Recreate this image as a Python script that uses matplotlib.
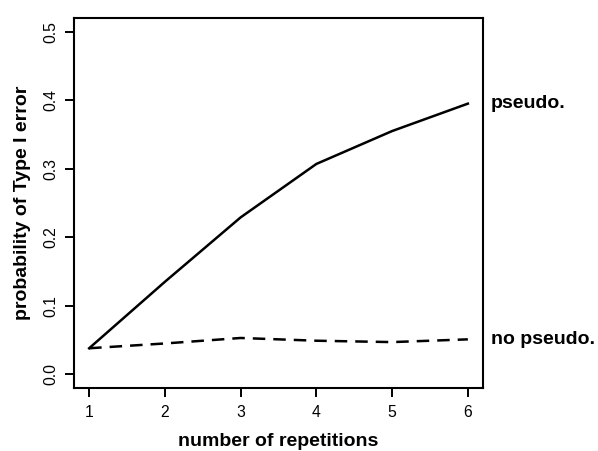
import matplotlib
matplotlib.use("Agg")
import matplotlib.pyplot as plt

repetitions = [1, 2, 3, 4, 5, 6]
pseudo = [0.038, 0.135, 0.229, 0.307, 0.355, 0.395]
no_pseudo = [0.038, 0.045, 0.053, 0.049, 0.047, 0.051]
x_ticks = [1, 2, 3, 4, 5, 6]
y_ticks = [0.0, 0.1, 0.2, 0.3, 0.4, 0.5]
series_labels = ["pseudo.", "no pseudo."]

plt.rcParams['font.family'] = ['Liberation Sans', 'DejaVu Sans']

W, H = 598, 451
fig = plt.figure(figsize=(W / 100, H / 100), dpi=100)
ax = fig.add_axes([74 / W, 1 - 388 / H, (483 - 74) / W, (388 - 18) / H])

ax.plot(repetitions, pseudo, color='black', lw=1.8, solid_joinstyle='round')
ax.plot(repetitions, no_pseudo, color='black', lw=1.8, dashes=(5, 3.2))

ax.set_xlim(0.8, 6.2)
ax.set_ylim(-0.02, 0.52)
ax.set_xticks(x_ticks)
ax.set_xticklabels([str(v) for v in x_ticks], fontsize=11.3)
ax.set_yticks(y_ticks)
ax.set_yticklabels([f"{v:.1f}" for v in y_ticks], fontsize=11.3, rotation=90, va='center')
ax.tick_params(axis='both', length=6.5, width=1.4, color='black')
ax.tick_params(axis='x', pad=6)
ax.tick_params(axis='y', pad=5)
for s in ax.spines.values():
    s.set_linewidth(1.5)

ax.set_xlabel("number of repetitions", fontsize=14, fontweight='bold', labelpad=9)
ax.set_ylabel("probability of Type I error", fontsize=14, fontweight='bold', labelpad=9)

ax.text(1.02, pseudo[-1], series_labels[0], transform=ax.get_yaxis_transform(),
        fontsize=14, fontweight='bold', va='center', ha='left', clip_on=False)
ax.text(1.02, no_pseudo[-1], series_labels[1], transform=ax.get_yaxis_transform(),
        fontsize=14, fontweight='bold', va='center', ha='left', clip_on=False)

fig.savefig("out.png", dpi=100)
